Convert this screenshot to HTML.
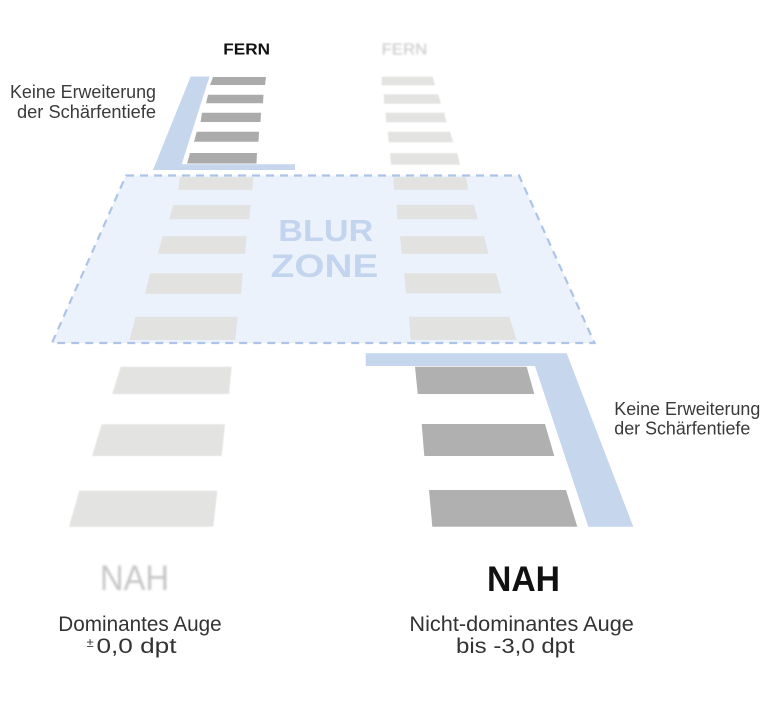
<!DOCTYPE html>
<html>
<head>
<meta charset="utf-8">
<style>
  html,body{margin:0;padding:0;background:#fff;}
  svg{display:block;}
  text{font-family:"Liberation Sans", sans-serif;}
</style>
</head>
<body>
<svg width="768" height="702" viewBox="0 0 768 702" xmlns="http://www.w3.org/2000/svg">
  <defs>
    <filter id="bl" x="-20%" y="-40%" width="140%" height="180%">
      <feGaussianBlur stdDeviation="1.1"/>
    </filter>
    <filter id="bls" x="-10%" y="-20%" width="120%" height="140%">
      <feGaussianBlur stdDeviation="0.4"/>
    </filter>
  </defs>
  <rect width="768" height="702" fill="#ffffff"/>

  <!-- FERN labels -->
  <text x="223.3" y="54.3" font-size="16" font-weight="bold" fill="#111" textLength="46.7" lengthAdjust="spacingAndGlyphs">FERN</text>
  <text x="381.7" y="54.5" font-size="16" fill="#c4c4c4" textLength="45.6" lengthAdjust="spacingAndGlyphs" filter="url(#bl)">FERN</text>

  <!-- Left side label -->
  <text x="10" y="98" font-size="18" fill="#3a3a3a" textLength="146" lengthAdjust="spacingAndGlyphs">Keine Erweiterung</text>
  <text x="17" y="118" font-size="18" fill="#3a3a3a" textLength="139" lengthAdjust="spacingAndGlyphs">der Schärfentiefe</text>

  <!-- top-left blue L -->
  <polygon points="190.7,76.5 209.5,76.5 181.7,164.3 295,164.3 295,170 153,170" fill="#c5d6ed"/>

  <!-- top-left dark stripes -->
  <g fill="#ababab">
    <polygon points="213,77 266,77 265,85 210,85"/>
    <polygon points="208,94.7 263.5,94.7 263,103.3 206,103.3"/>
    <polygon points="202,112.7 261,112.7 260.5,122 200.5,122"/>
    <polygon points="196.7,131.7 259,131.7 258.5,141.7 194,141.7"/>
    <polygon points="190,153 257,153 256.5,163.5 187,163.5"/>
  </g>

  <!-- top-right faded stripes -->
  <g fill="#e3e3e2" filter="url(#bls)">
    <polygon points="381.7,76.7 432.7,76.7 435,85.3 381.7,85.3"/>
    <polygon points="383.7,94.3 438.3,94.3 441,103.7 384.3,103.7"/>
    <polygon points="385.7,112.7 444,112.7 446.7,122.3 386,122.3"/>
    <polygon points="387.7,131.7 450,131.7 453.3,142.3 388.7,142.3"/>
    <polygon points="390,153.3 457.3,153.3 460,164.7 391,164.7"/>
  </g>

  <!-- Blur zone fill -->
  <polygon points="126,175.5 519,175.5 594.5,343 52,343" fill="#ebf2fb"/>

  <!-- zone stripes -->
  <g fill="#e2e2e0">
    <polygon points="180,177.3 253.3,177.3 252.3,189.7 178.3,189.7"/>
    <polygon points="173.3,205 250.7,205 249,219.3 169.3,219.3"/>
    <polygon points="162.7,236.3 246.7,236.3 245,253.7 157.7,253.7"/>
    <polygon points="150,273.3 242.7,273.3 241,293.7 145,293.7"/>
    <polygon points="135.7,316.7 237.7,316.7 235.3,340 129.3,340"/>

    <polygon points="393.3,177.3 466,177.3 468.3,189.7 394,189.7"/>
    <polygon points="396.7,204.7 474,204.7 477.7,219.3 397.3,219.3"/>
    <polygon points="400,236.3 484.3,236.3 488.3,253.7 401.7,253.7"/>
    <polygon points="404.3,273.3 496,273.3 501.7,293.3 406,293.3"/>
    <polygon points="409,316.7 509.3,316.7 516.7,340 410.7,340"/>
  </g>

  <!-- zone border -->
  <polygon points="126,175.5 519,175.5 594.5,343 52,343" fill="none" stroke="#adc4e7" stroke-width="2.2" stroke-dasharray="8 6"/>

  <!-- BLUR ZONE text -->
  <text x="278.3" y="241" font-size="31" font-weight="bold" fill="#c3d5ee" textLength="95" lengthAdjust="spacingAndGlyphs">BLUR</text>
  <text x="270.7" y="277" font-size="32" font-weight="bold" fill="#c3d5ee" textLength="107.6" lengthAdjust="spacingAndGlyphs">ZONE</text>

  <!-- bottom-left faded stripes -->
  <g fill="#e3e3e2" filter="url(#bls)">
    <polygon points="120.7,366.7 231.7,366.7 229,394 112.3,394"/>
    <polygon points="101.7,424.3 225,424.3 221.7,456 92,456"/>
    <polygon points="79.3,490.7 217.3,490.7 213.3,526.7 69,526.7"/>
  </g>

  <!-- bottom-right blue shape -->
  <polygon points="365.7,353.3 566.7,353.3 633.3,526.7 588.3,526.7 535,366 365.7,366" fill="#c5d6ed"/>

  <!-- bottom-right dark stripes -->
  <g fill="#b0b0b0">
    <polygon points="415,366.7 526.7,366.7 534.3,394 417.7,394"/>
    <polygon points="421.7,424 545,424 554.3,456 424.3,456"/>
    <polygon points="429,490 566,490 577.3,526.7 432.3,526.7"/>
  </g>

  <!-- Right side label -->
  <text x="614.3" y="415" font-size="18" fill="#3a3a3a" textLength="146" lengthAdjust="spacingAndGlyphs">Keine Erweiterung</text>
  <text x="614.3" y="434.5" font-size="18" fill="#3a3a3a" textLength="136" lengthAdjust="spacingAndGlyphs">der Schärfentiefe</text>

  <!-- NAH labels -->
  <text x="100" y="590" font-size="35" fill="#c6c6c6" textLength="69" lengthAdjust="spacingAndGlyphs" filter="url(#bl)">NAH</text>
  <text x="487" y="591" font-size="35" font-weight="bold" fill="#111" textLength="73" lengthAdjust="spacingAndGlyphs">NAH</text>

  <!-- bottom captions -->
  <text x="58.3" y="631" font-size="21" fill="#333" textLength="163.4" lengthAdjust="spacingAndGlyphs">Dominantes Auge</text>
  <text x="86.5" y="647" font-size="13" fill="#333">±</text>
  <text x="96.5" y="653" font-size="21" fill="#333" textLength="80" lengthAdjust="spacingAndGlyphs">0,0 dpt</text>

  <text x="409.4" y="631" font-size="21" fill="#333" textLength="224.5" lengthAdjust="spacingAndGlyphs">Nicht-dominantes Auge</text>
  <text x="456" y="653" font-size="21" fill="#333" textLength="118.7" lengthAdjust="spacingAndGlyphs">bis -3,0 dpt</text>
</svg>
</body>
</html>
